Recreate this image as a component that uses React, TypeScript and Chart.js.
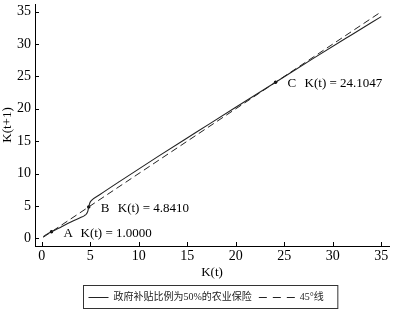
import React, { useEffect, useRef } from 'react';
import { Chart, registerables } from 'chart.js';

Chart.register(...registerables);

// Solid curve: K(t+1) as a function of K(t)
const curveX = [0.15, 0.5, 1.0, 2.0, 3.0, 4.0, 4.4, 4.6, 4.75, 4.841, 4.95, 5.1, 6.0, 8.0, 12.0, 16.0, 20.0, 24.1047, 28.0, 32.0, 35.0];
const curveY = [0.25, 0.6, 1.0, 1.75, 2.5, 3.2, 3.5, 3.75, 4.2, 4.841, 5.45, 5.8, 6.75, 8.75, 12.65, 16.45, 20.25, 24.1047, 27.8, 31.5, 34.25];

// 45° reference line
const diagX = [0.15, 35];

// Fixed points
const markX = [1.0, 4.841, 24.1047];
const markNames = ['A', 'B', 'C'];
const markTexts = ['K(t) = 1.0000', 'K(t) = 4.8410', 'K(t) = 24.1047'];

// Axes
const xTicks = [0, 5, 10, 15, 20, 25, 30, 35];
const yTicks = [0, 5, 10, 15, 20, 25, 30, 35];
const xTitle = 'K(t)';
const yTitle = 'K(t+1)';

const seriesNames = ['政府补贴比例为50%的农业保险', '45°线'];

const SERIF = "'Liberation Serif', 'Times New Roman', 'Noto Sans CJK SC', serif";
const LEGEND_FONT = "10px 'Liberation Serif', 'Noto Sans CJK SC', serif";

const overlayPlugin = {
  id: 'overlay',
  afterDraw(chart: any) {
    const { ctx, chartArea, scales } = chart;
    const xs = scales.x;
    const ys = scales.y;
    ctx.save();
    // inward tick marks
    ctx.strokeStyle = '#000';
    ctx.lineWidth = 1;
    ctx.beginPath();
    xTicks.forEach((v) => {
      const p = Math.round(xs.getPixelForValue(v)) + 0.5;
      ctx.moveTo(p, chartArea.bottom);
      ctx.lineTo(p, chartArea.bottom - 4);
    });
    yTicks.forEach((v) => {
      const p = Math.round(ys.getPixelForValue(v)) + 0.5;
      ctx.moveTo(chartArea.left, p);
      ctx.lineTo(chartArea.left + 4, p);
    });
    ctx.stroke();

    // point annotations
    ctx.fillStyle = '#000';
    ctx.font = `13px ${SERIF}`;
    ctx.textBaseline = 'middle';
    ctx.textAlign = 'left';
    markX.forEach((v, i) => {
      const px = xs.getPixelForValue(v);
      const py = ys.getPixelForValue(v);
      ctx.fillText(markNames[i], px + 12, py + 1.5);
      ctx.fillText(markTexts[i], px + 29, py + 1.5);
    });

    // legend box
    ctx.font = LEGEND_FONT;
    const ds = chart.data.datasets;
    const tw1 = ctx.measureText(ds[0].label).width;
    const tw2 = ctx.measureText(ds[1].label).width;
    const solidLen = 20;
    const dashLen = 36;
    const boxW = 5 + solidLen + 5 + tw1 + 7 + dashLen + 5 + tw2 + 14;
    const boxH = 23;
    const cx = (chartArea.left + chartArea.right) / 2 - 2;
    const boxL = Math.round(cx - boxW / 2) + 0.5;
    const boxT = chart.height - 26 + 0.5;
    ctx.strokeStyle = '#333';
    ctx.lineWidth = 1;
    ctx.strokeRect(boxL, boxT, boxW, boxH);
    const midY = Math.round(boxT + boxH / 2) + 0.5;
    let x = boxL + 5;
    ctx.strokeStyle = '#222';
    ctx.setLineDash([]);
    ctx.beginPath();
    ctx.moveTo(x, midY);
    ctx.lineTo(x + solidLen, midY);
    ctx.stroke();
    x += solidLen + 5;
    ctx.fillStyle = '#222';
    ctx.fillText(ds[0].label, x, midY);
    x += tw1 + 7;
    ctx.setLineDash([8, 6]);
    ctx.beginPath();
    ctx.moveTo(x, midY);
    ctx.lineTo(x + dashLen, midY);
    ctx.stroke();
    ctx.setLineDash([]);
    x += dashLen + 5;
    ctx.fillText(ds[1].label, x, midY);
    ctx.restore();
  },
};

export default function App() {
  const ref = useRef<HTMLCanvasElement | null>(null);

  useEffect(() => {
    document.body.style.margin = '0';
    const canvas = ref.current;
    if (!canvas) return;
    const chart = new Chart(canvas, {
      type: 'line',
      data: {
        datasets: [
          {
            label: seriesNames[0],
            data: curveX.map((x, i) => ({ x, y: curveY[i] })),
            borderColor: '#222',
            borderWidth: 1.1,
            pointRadius: 0,
            cubicInterpolationMode: 'monotone',
            fill: false,
          },
          {
            label: seriesNames[1],
            data: diagX.map((x) => ({ x, y: x })),
            borderColor: '#222',
            borderWidth: 1,
            borderDash: [7, 4],
            pointRadius: 0,
            fill: false,
          },
          {
            label: 'points',
            data: markX.map((x) => ({ x, y: x })),
            showLine: false,
            pointRadius: 1.7,
            pointBackgroundColor: '#000',
            pointBorderColor: '#000',
            borderWidth: 0,
          },
        ],
      },
      options: {
        animation: false,
        responsive: false,
        maintainAspectRatio: false,
        layout: { padding: { top: 2, right: 1, bottom: 29, left: 0 } },
        plugins: {
          legend: { display: false },
          tooltip: { enabled: false },
        },
        scales: {
          x: {
            type: 'linear',
            min: -0.7,
            max: 35.8,
            grid: { display: false, drawTicks: false },
            border: { display: true, color: '#000', width: 1 },
            ticks: {
              color: '#000',
              padding: 2,
              font: { family: SERIF, size: 14 },
              autoSkip: false,
              maxRotation: 0,
            },
            title: {
              display: true,
              text: xTitle,
              color: '#000',
              font: { family: SERIF, size: 13 },
              padding: { top: 0, bottom: 2 },
            },
            afterBuildTicks: (scale: any) => {
              scale.ticks = xTicks.map((v) => ({ value: v }));
            },
            afterFit: (scale: any) => {
              scale.height = 36;
              scale.paddingLeft = 0;
              scale.paddingRight = 0;
            },
          },
          y: {
            type: 'linear',
            min: -1.2,
            max: 36.2,
            grid: { display: false, drawTicks: false },
            border: { display: true, color: '#000', width: 1 },
            ticks: {
              color: '#000',
              padding: 4,
              font: { family: SERIF, size: 14 },
              autoSkip: false,
            },
            title: {
              display: true,
              text: yTitle,
              color: '#000',
              font: { family: SERIF, size: 13 },
              padding: { top: 0, bottom: 0 },
            },
            afterBuildTicks: (scale: any) => {
              scale.ticks = yTicks.map((v) => ({ value: v }));
            },
            afterFit: (scale: any) => {
              scale.width = 35;
              scale.paddingTop = 0;
              scale.paddingBottom = 0;
            },
          },
        },
      },
      plugins: [overlayPlugin],
    } as any);
    return () => chart.destroy();
  }, []);

  return (
    <div style={{ width: 393, height: 311, background: '#fff' }}>
      <canvas ref={ref} width={393} height={311} style={{ display: 'block', width: 393, height: 311 }} />
    </div>
  );
}
